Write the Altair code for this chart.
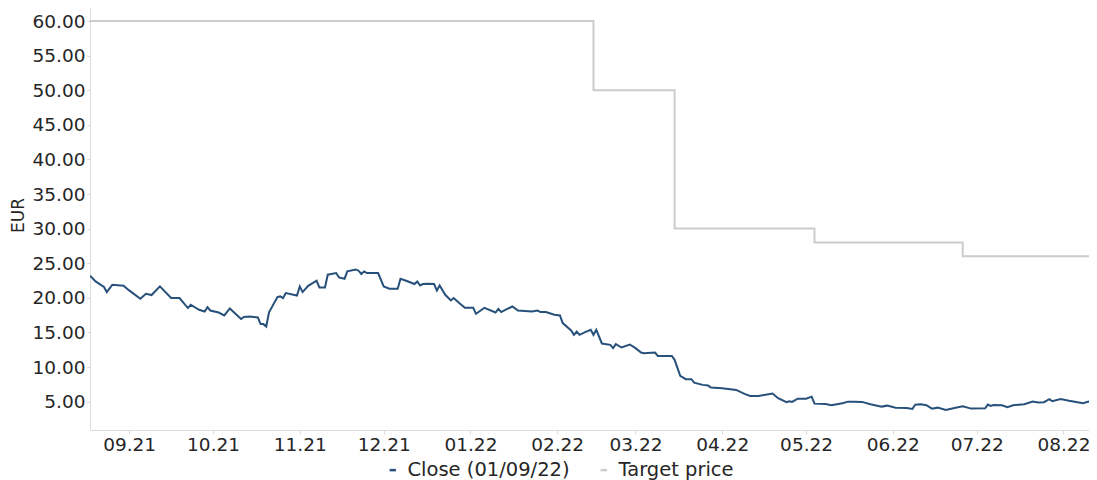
import altair as alt
import pandas as pd

close_dates = [
    "2021-08-18", "2021-08-20", "2021-08-23", "2021-08-24", "2021-08-26", "2021-08-30",
    "2021-09-01", "2021-09-05", "2021-09-07", "2021-09-09", "2021-09-12", "2021-09-16",
    "2021-09-19", "2021-09-22", "2021-09-23", "2021-09-26", "2021-09-28", "2021-09-29",
    "2021-09-30", "2021-10-03", "2021-10-05", "2021-10-07", "2021-10-11", "2021-10-12",
    "2021-10-14", "2021-10-17", "2021-10-18", "2021-10-19", "2021-10-20", "2021-10-21",
    "2021-10-24", "2021-10-25", "2021-10-26", "2021-10-27", "2021-10-31", "2021-11-01",
    "2021-11-02", "2021-11-04", "2021-11-07", "2021-11-08", "2021-11-10", "2021-11-11",
    "2021-11-14", "2021-11-15", "2021-11-17", "2021-11-18", "2021-11-21", "2021-11-22",
    "2021-11-23", "2021-11-24", "2021-11-25", "2021-11-29", "2021-12-01", "2021-12-03",
    "2021-12-06", "2021-12-07", "2021-12-09", "2021-12-12", "2021-12-13", "2021-12-14",
    "2021-12-15", "2021-12-17", "2021-12-19", "2021-12-20", "2021-12-21", "2021-12-23",
    "2021-12-25", "2021-12-26", "2021-12-28", "2021-12-30", "2022-01-02", "2022-01-03",
    "2022-01-06", "2022-01-10", "2022-01-11", "2022-01-12", "2022-01-14", "2022-01-16",
    "2022-01-18", "2022-01-23", "2022-01-25", "2022-01-26", "2022-01-28", "2022-01-31",
    "2022-02-02", "2022-02-03", "2022-02-06", "2022-02-07", "2022-02-08", "2022-02-09",
    "2022-02-11", "2022-02-13", "2022-02-14", "2022-02-15", "2022-02-17", "2022-02-20",
    "2022-02-21", "2022-02-22", "2022-02-24", "2022-02-27", "2022-03-01", "2022-03-03",
    "2022-03-04", "2022-03-08", "2022-03-09", "2022-03-14", "2022-03-15", "2022-03-17",
    "2022-03-19", "2022-03-21", "2022-03-22", "2022-03-25", "2022-03-27", "2022-03-28",
    "2022-04-01", "2022-04-06", "2022-04-09", "2022-04-11", "2022-04-14", "2022-04-16",
    "2022-04-19", "2022-04-21", "2022-04-24", "2022-04-25", "2022-04-26", "2022-04-28",
    "2022-05-01", "2022-05-03", "2022-05-04", "2022-05-08", "2022-05-10", "2022-05-12",
    "2022-05-14", "2022-05-16", "2022-05-18", "2022-05-21", "2022-05-24", "2022-05-28",
    "2022-05-30", "2022-06-02", "2022-06-06", "2022-06-08", "2022-06-09", "2022-06-11",
    "2022-06-13", "2022-06-15", "2022-06-17", "2022-06-20", "2022-06-23", "2022-06-26",
    "2022-06-29", "2022-07-04", "2022-07-05", "2022-07-06", "2022-07-07", "2022-07-10",
    "2022-07-12", "2022-07-14", "2022-07-18", "2022-07-21", "2022-07-23", "2022-07-25",
    "2022-07-27", "2022-07-28", "2022-07-31", "2022-08-03", "2022-08-08", "2022-08-10",
    "2022-08-12", "2022-08-13",
]
close_values = [
    23.2, 22.37, 21.56, 20.83, 21.9, 21.75,
    21.07, 19.86, 20.59, 20.4, 21.65, 19.97,
    19.97, 18.52, 19.0, 18.27, 18.03, 18.66,
    18.17, 17.88, 17.45, 18.46, 16.93, 17.22,
    17.3, 17.16, 16.2, 16.2, 15.85, 17.9,
    20.1, 20.2, 19.97, 20.69, 20.34, 21.65,
    20.83, 21.74, 22.47, 21.5, 21.5, 23.34,
    23.58, 22.95, 22.76, 23.82, 24.1, 23.92,
    23.44, 23.82, 23.58, 23.58, 21.65, 21.31,
    21.31, 22.76, 22.47, 21.99, 22.37, 21.79,
    21.99, 22.04, 21.99, 21.07, 21.79, 20.44,
    19.62, 19.97, 19.24, 18.56, 18.56, 17.69,
    18.56, 17.88, 18.42, 17.94, 18.37, 18.75,
    18.17, 18.03, 18.17, 17.94, 17.94, 17.55,
    17.45, 16.35, 15.28, 14.65, 15.13, 14.65,
    15.04, 15.38, 14.65, 15.38, 13.4, 13.2,
    12.73, 13.3, 12.82, 13.25, 12.73, 12.09,
    12.0, 12.09, 11.61, 11.61, 11.04, 8.72,
    8.24, 8.24, 7.75, 7.42, 7.32, 7.03,
    6.94, 6.69, 6.11, 5.83, 5.83, 5.97,
    6.16, 5.49, 4.91, 5.06, 4.96, 5.43,
    5.43, 5.72, 4.71, 4.67, 4.48, 4.62,
    4.77, 5.0, 5.0, 4.96, 4.62, 4.28,
    4.42, 4.13, 4.09, 3.94, 4.57, 4.62,
    4.48, 3.99, 4.13, 3.8, 4.09, 4.33,
    3.99, 4.04, 4.57, 4.38, 4.52, 4.48,
    4.19, 4.48, 4.62, 5.0, 4.86, 4.91,
    5.35, 5.06, 5.39, 5.14, 4.77, 5.0,
    4.67, 4.52,
]

target_dates = ["2021-08-18", "2022-02-14", "2022-03-15", "2022-05-04", "2022-06-26", "2022-08-13"]
target_values = [60, 50, 30, 28, 26, 26]

series_names = ["Close (01/09/22)", "Target price"]
series_colors = ["#27507a", "#cccccc"]

month_ticks = [
    "2021-09-01", "2021-10-01", "2021-11-01", "2021-12-01", "2022-01-01", "2022-02-01",
    "2022-03-01", "2022-04-01", "2022-05-01", "2022-06-01", "2022-07-01", "2022-08-01",
]
y_ticks = [5, 10, 15, 20, 25, 30, 35, 40, 45, 50, 55, 60]
x_range = ["2021-08-18T00:00:00", "2022-08-10T03:20:00"]
y_range = [0.9, 61.88]


def ms(s):
    return int(pd.Timestamp(s, tz="UTC").timestamp() * 1000)


close_df = pd.DataFrame({"date": close_dates, "value": close_values, "series": series_names[0]})
target_df = pd.DataFrame({"date": target_dates, "value": target_values, "series": series_names[1]})

FONT = "DejaVu Sans"

x_enc = alt.X(
    "date:T",
    scale=alt.Scale(type="utc", domain=[ms(d) for d in x_range]),
    axis=alt.Axis(
        values=[ms(d) for d in month_ticks],
        labelExpr="utcFormat(datum.value, '%m.%y')",
        title=None,
        grid=False,
        labelFontSize=18.5,
        labelFont=FONT,
        labelColor="#262626",
        tickSize=4,
        tickColor="#dcdcdc",
        domainColor="#dcdcdc",
        labelPadding=1,
        labelFlush=False,
        labelOverlap=False,
    ),
)
y_enc = alt.Y(
    "value:Q",
    scale=alt.Scale(domain=y_range, nice=False, zero=False),
    axis=alt.Axis(
        values=y_ticks,
        format=".2f",
        title="EUR",
        grid=False,
        labelFontSize=18.5,
        labelFont=FONT,
        labelColor="#262626",
        tickSize=3,
        tickColor="#dcdcdc",
        domainColor="#dcdcdc",
        labelPadding=2,
        titleFont=FONT,
        titleFontSize=17,
        titleFontWeight="normal",
        titleColor="#262626",
        titleAngle=270,
        titleX=-72,
        titleY=207,
        titleAlign="center",
        titleBaseline="middle",
    ),
)
color_enc = alt.Color(
    "series:N",
    scale=alt.Scale(domain=series_names, range=series_colors),
    legend=alt.Legend(
        title=None,
        orient="none",
        direction="horizontal",
        legendX=293,
        legendY=452,
        symbolType="stroke",
        symbolSize=40,
        symbolStrokeWidth=2.5,
        labelFont=FONT,
        labelFontSize=19.5,
        labelColor="#262626",
        labelOffset=5,
        labelLimit=400,
        columnPadding=24,
    ),
)

target_line = alt.Chart(target_df).mark_line(
    interpolate="step-after", strokeWidth=2, clip=True
).encode(x=x_enc, y=y_enc, color=color_enc)

close_line = alt.Chart(close_df).mark_line(strokeWidth=2, clip=True).encode(
    x=x_enc, y=y_enc, color=color_enc
)

chart = (
    alt.layer(target_line, close_line)
    .properties(
        width=999,
        height=422,
        autosize=alt.AutoSizeParams(type="none"),
        padding={"left": 82, "top": 0, "right": 0, "bottom": 50},
    )
    .configure_view(stroke=None)
)

chart.save("out.html", embed_options={"renderer": "svg", "actions": False})
